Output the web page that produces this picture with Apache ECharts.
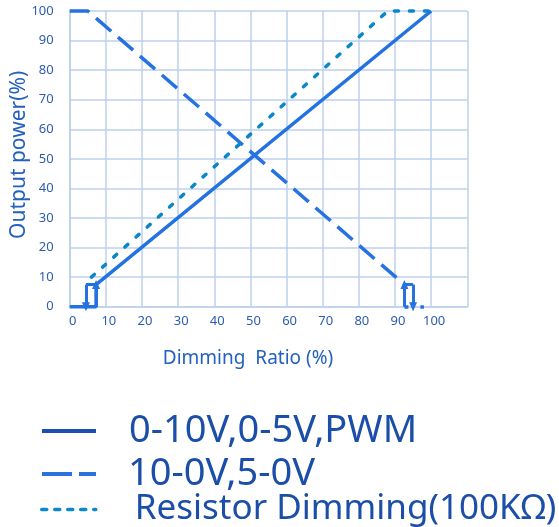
<!DOCTYPE html>
<html>
<head>
<meta charset="utf-8">
<script src="https://cdn.jsdelivr.net/npm/echarts@6/dist/echarts.min.js"></script>
<style>
html,body{margin:0;padding:0;background:#fff;}
#c{width:559px;height:527px;}
</style>
</head>
<body>
<div id="c"></div>
<script>
// ---- data ----
const seriesNames = ['0-10V,0-5V,PWM', '10-0V,5-0V', 'Resistor Dimming(100KΩ)'];
const xTickValues = [0, 10, 20, 30, 40, 50, 60, 70, 80, 90, 100];
const yTickValues = [0, 10, 20, 30, 40, 50, 60, 70, 80, 90, 100];

// 0-10V / 0-5V / PWM (solid)
const pwmLine = [[0, 0], [7.3, 0], [7.3, 7.5], [100, 100]];
const pwmStepTop = [[4.5, 7.5], [7.3, 7.5]];
const pwmArrowDown = [[4.5, 7.5], [4.5, 0]];
const pwmArrowUp = [[7.3, 0], [7.3, 7.5]];

// 10-0V / 5-0V (dashed)
const invLine = [[0, 100], [5, 100], [92.6, 7.5]];
const invStepTop = [[92.6, 7.5], [95, 7.5]];
const invArrowUp = [[92.6, 0], [92.6, 7.5]];
const invArrowDown = [[95, 7.5], [95, 0]];
const invBottom = [[92.6, 0], [98, 0]];

// Resistor dimming (dotted)
const resLine = [[6, 10], [88, 100], [100, 100]];

// ---- chart ----
const FONT = 'Noto Sans';
const C_SOLID = '#2372e2';
const C_DASH = '#2672e0';
const C_DOT = '#0a86c9';
const C_GRID = '#bdd0ec';

function seg(p, sym0, sym1, extra) {
  return [
    Object.assign({ coord: p[0], symbol: sym0 }, extra || {}),
    { coord: p[1], symbol: sym1 }
  ];
}

const chart = echarts.init(document.getElementById('c'), null, { renderer: 'canvas' });

const legendBase = {
  orient: 'horizontal',
  left: 35,
  itemWidth: 54,
  itemHeight: 14,
  selectedMode: false,
  itemStyle: { opacity: 0 }
};
const legendText = { fontFamily: FONT, fontSize: 38, color: '#1b4ea8', padding: [0, 0, 0, 27] };

chart.setOption({
  animation: false,
  grid: { left: 69.7, right: 91.7, top: 11, bottom: 220.3, containLabel: false, outerBoundsMode: 'none' },
  legend: [
    Object.assign({}, legendBase, { top: 407, data: [seriesNames[0]], textStyle: Object.assign({}, legendText, { padding: [4, 0, 0, 28] }),
      lineStyle: { color: '#1a4fb0', width: 4, type: 'solid' } }),
    Object.assign({}, legendBase, { top: 450, data: [seriesNames[1]], textStyle: legendText,
      lineStyle: { color: '#2a72e0', width: 4, type: [30, 7] } }),
    Object.assign({}, legendBase, { top: 487, data: [seriesNames[2]],
      textStyle: Object.assign({}, legendText, { fontSize: 35, padding: [0, 0, 0, 34] }),
      lineStyle: { color: '#0b88cc', width: 3.5, type: [5, 8] } })
  ],
  xAxis: {
    type: 'value', min: 0, max: 110, interval: 10,
    name: 'Dimming  Ratio (%)', nameLocation: 'middle', nameGap: 42,
    nameTextStyle: { fontFamily: FONT, fontSize: 19, color: '#2360c0', padding: [0, 41, 0, 0] },
    axisLine: { show: true, lineStyle: { color: C_GRID, width: 1.5 } },
    axisTick: { show: false },
    splitLine: { show: true, lineStyle: { color: C_GRID, width: 1.5 } },
    axisLabel: {
      fontFamily: FONT, fontSize: 13, color: '#2d5cb0', margin: 8, padding: [0, 0, 0, 6],
      formatter: v => xTickValues.indexOf(v) >= 0 ? String(v) : ''
    }
  },
  yAxis: {
    type: 'value', min: 0, max: 100, interval: 10,
    name: 'Output power(%)', nameLocation: 'middle', nameGap: 40, nameMoveOverlap: false,
    nameTextStyle: { fontFamily: FONT, fontSize: 21, color: '#2360c0', padding: [0, 0, 0, 8] },
    axisLine: { show: true, lineStyle: { color: C_GRID, width: 1.5 } },
    axisTick: { show: false },
    splitLine: { show: true, lineStyle: { color: C_GRID, width: 1.5 } },
    axisLabel: {
      fontFamily: FONT, fontSize: 13, color: '#2d5cb0', margin: 16,
      formatter: v => yTickValues.indexOf(v) >= 0 ? String(v) : ''
    }
  },
  series: [
    {
      name: seriesNames[0], type: 'line', data: pwmLine, symbol: 'none', clip: false,
      lineStyle: { color: C_SOLID, width: 3.5 }, itemStyle: { color: C_SOLID },
      markLine: {
        silent: true, animation: false, symbolSize: [8, 9],
        label: { show: false }, emphasis: { disabled: true },
        lineStyle: { color: C_SOLID, width: 3, type: 'solid' },
        data: [
          seg(pwmStepTop, 'none', 'none'),
          seg(pwmArrowDown, 'none', 'triangle'),
          seg(pwmArrowUp, 'none', 'triangle')
        ]
      }
    },
    {
      name: seriesNames[1], type: 'line', data: invLine, symbol: 'none', clip: false,
      lineStyle: { color: C_DASH, width: 3.5, type: [20, 9] }, itemStyle: { color: C_DASH },
      markLine: {
        silent: true, animation: false, symbolSize: [8, 9],
        label: { show: false }, emphasis: { disabled: true },
        lineStyle: { color: C_DASH, width: 3, type: 'solid' },
        data: [
          seg(invStepTop, 'none', 'none'),
          seg(invArrowUp, 'none', 'triangle'),
          seg(invArrowDown, 'none', 'triangle'),
          seg(invBottom, 'none', 'none', { lineStyle: { type: [4, 12], width: 3.5 } })
        ]
      }
    },
    {
      name: seriesNames[2], type: 'line', data: resLine, symbol: 'none', clip: false,
      lineStyle: { color: C_DOT, width: 3.5, type: [4, 11], cap: 'round' }, itemStyle: { color: C_DOT }
    }
  ]
});
</script>
</body>
</html>
